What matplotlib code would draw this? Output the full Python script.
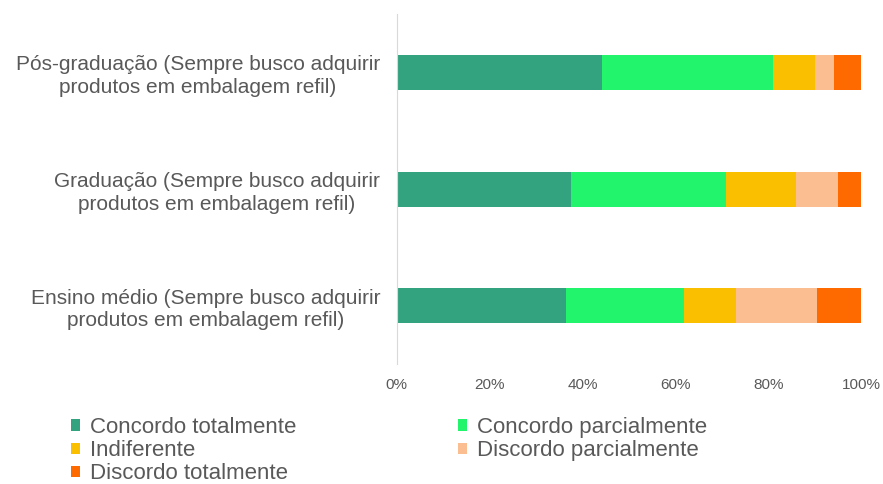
import matplotlib

matplotlib.use("Agg")
import matplotlib.pyplot as plt
from matplotlib.patches import Patch
from matplotlib.ticker import PercentFormatter

plt.rcParams["font.family"] = ["Liberation Sans", "DejaVu Sans"]

categories = [
    "Pós-graduação (Sempre busco adquirir\nprodutos em embalagem refil)",
    "Graduação (Sempre busco adquirir\nprodutos em embalagem refil)",
    "Ensino médio (Sempre busco adquirir\nprodutos em embalagem refil)",
]
series_names = [
    "Concordo totalmente",
    "Concordo parcialmente",
    "Indiferente",
    "Discordo parcialmente",
    "Discordo totalmente",
]
concordo_total = [44.2, 37.5, 36.5]
concordo_parcial = [36.8, 33.4, 25.4]
indiferente = [9.2, 15.0, 11.2]
discordo_parcial = [3.9, 9.1, 17.5]
discordo_total = [5.9, 5.0, 9.4]
x_ticks = [0, 20, 40, 60, 80, 100]

series = [concordo_total, concordo_parcial, indiferente, discordo_parcial, discordo_total]
colors = ["#33A37F", "#22F56C", "#FAC000", "#FBBE91", "#FE6A00"]
text_color = "#595959"

W, H = 883, 484
fig = plt.figure(figsize=(W / 100, H / 100), dpi=100)
ax = fig.add_axes([396.7 / W, 1 - 364 / H, (861 - 396.7) / W, 350 / H])

# stacked horizontal bars, one segment per answer
y = list(range(len(categories)))
left = [0.0] * len(categories)
for values, color in zip(series, colors):
    ax.barh(y, values, left=left, height=0.3, color=color, linewidth=0)
    left = [a + b for a, b in zip(left, values)]

ax.set_xlim(0, 100)
ax.set_ylim(len(categories) - 0.5, -0.5)
ax.set_xticks(x_ticks)
ax.xaxis.set_major_formatter(PercentFormatter(decimals=0))
ax.set_yticks(y)
ax.set_yticklabels(categories, multialignment="center", linespacing=1.25)

ax.tick_params(axis="y", length=0, pad=12, labelsize=15, labelcolor=text_color)
ax.tick_params(axis="x", length=0, pad=10, labelsize=11, labelcolor=text_color)
for side in ("top", "right", "bottom"):
    ax.spines[side].set_visible(False)
ax.spines["left"].set_color("#D9D9D9")

# legend laid out row-wise in two columns
handles = [Patch(facecolor=c, edgecolor="none") for c in colors]
legend_style = dict(
    frameon=False,
    fontsize=16,
    handlelength=0.4,
    handleheight=0.4,
    handletextpad=0.45,
    labelspacing=0.1,
    borderpad=0,
    borderaxespad=0,
    labelcolor=text_color,
    loc="upper left",
)
fig.legend(
    [handles[0], handles[2], handles[4]],
    [series_names[0], series_names[2], series_names[4]],
    bbox_to_anchor=(71 / W, 1 - 417 / H),
    **legend_style,
)
fig.legend(
    [handles[1], handles[3]],
    [series_names[1], series_names[3]],
    bbox_to_anchor=(458 / W, 1 - 417 / H),
    **legend_style,
)

fig.savefig("out.png", dpi=100)
